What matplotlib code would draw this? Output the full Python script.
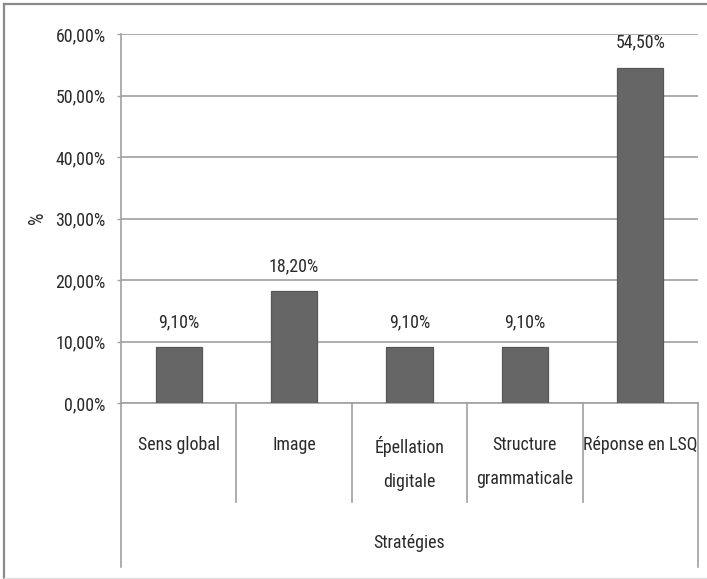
import matplotlib
matplotlib.use("Agg")
import matplotlib.pyplot as plt
from matplotlib.lines import Line2D
import matplotlib.transforms as mtransforms
from matplotlib import font_manager as fm

categories = ["Sens global", "Image", "Épellation\ndigitale", "Structure\ngrammaticale", "Réponse en LSQ"]
values = [9.10, 18.20, 9.10, 9.10, 54.50]
value_labels = ["9,10%", "18,20%", "9,10%", "9,10%", "54,50%"]
yticks = [0, 10, 20, 30, 40, 50, 60]
ytick_labels = ["0,00%", "10,00%", "20,00%", "30,00%", "40,00%", "50,00%", "60,00%"]
xlabel = "Stratégies"
ylabel = "%"

# pick a narrow sans font if one is installed
prefs = ["liberationsansnarrow-regular", "robotocondensed-regular", "notosans-condensed.",
         "opensans_condensed-regular", "opensans-condensed", "dejavusanscondensed.",
         "lato-regular", "liberationsans-regular"]
paths = [f.fname for f in fm.fontManager.ttflist]
chosen = None
for p in prefs:
    for path in paths:
        if p in path.lower().replace(" ", ""):
            chosen = path
            break
    if chosen:
        break

def fprop(size):
    if chosen:
        return fm.FontProperties(fname=chosen, size=size)
    return fm.FontProperties(family="DejaVu Sans", size=size)

W, H = 707, 579
fig = plt.figure(figsize=(W / 100, H / 100), dpi=100)

# size the font so the wording roughly matches the reference widths
probe = fig.text(0, 0, "Réponse en LSQ", fontproperties=fprop(10))
r = fig.canvas.get_renderer()
wpx = probe.get_window_extent(r).width
probe.remove()
fs = min(15.0, 10 * 114.0 / wpx)
fp = fprop(fs)
fp_y = fprop(fs * 1.1)

ax = fig.add_axes([121 / W, (H - 403) / H, (698 - 121) / W, (403 - 34) / H])

grid_c = "#a0a0a0"
text_c = "#2a2a2a"

x = list(range(len(categories)))
ax.bar(x, values, width=0.4, color="#666666", edgecolor="#575757", linewidth=0.9, zorder=3)

ax.set_xlim(-0.5, len(categories) - 0.5)
ax.set_ylim(0, 60)
ax.set_yticks(yticks)
ax.set_yticklabels(ytick_labels, color=text_c)
ax.yaxis.grid(True, color=grid_c, linewidth=1.2, zorder=0)
ax.set_axisbelow(True)
ax.tick_params(axis='y', length=3, width=1, color=grid_c, pad=8)
ax.set_xticks(x)
ax.set_xticklabels(categories, color=text_c, linespacing=2.15)
ax.tick_params(axis='x', length=0, pad=24)
for lbl in ax.get_xticklabels() + ax.get_yticklabels():
    lbl.set_fontproperties(fp)

for s in ["top", "right"]:
    ax.spines[s].set_visible(False)
for s in ["left", "bottom"]:
    ax.spines[s].set_color(grid_c)
    ax.spines[s].set_linewidth(1.2)

for xi, v, lab in zip(x, values, value_labels):
    ax.annotate(lab, (xi, v), xytext=(0, 18), textcoords="offset points",
                ha="center", va="center", fontproperties=fp, color=text_c)

# category separators below the axis
trans = mtransforms.blended_transform_factory(ax.transData, ax.transAxes)
for b in [0.5, 1.5, 2.5, 3.5]:
    ax.add_line(Line2D([b, b], [0, -0.268], transform=trans, color=grid_c,
                       linewidth=1.2, clip_on=False))
for b in [-0.5, len(categories) - 0.5]:
    ax.add_line(Line2D([b, b], [0, -0.444], transform=trans, color=grid_c,
                       linewidth=1.2, clip_on=False))

ax.text(0.5, -0.38, xlabel, transform=ax.transAxes, ha="center", va="center",
        fontproperties=fp, color=text_c)
fig.text(37 / W, 1 - 218 / H, ylabel, rotation=90, ha="center", va="center",
         fontproperties=fp_y, color=text_c)

# outer frame
fig.add_artist(Line2D([4 / W, 4 / W], [0, 1 - 4 / H], transform=fig.transFigure,
                      color="#8a8a8a", linewidth=1.6))
fig.add_artist(Line2D([4 / W, 1], [1 - 4 / H, 1 - 4 / H], transform=fig.transFigure,
                      color="#8a8a8a", linewidth=1.6))
fig.add_artist(Line2D([4 / W, 1], [1.5 / H, 1.5 / H], transform=fig.transFigure,
                      color="#e0e0e0", linewidth=1.0))

fig.savefig("out.png", dpi=100)
